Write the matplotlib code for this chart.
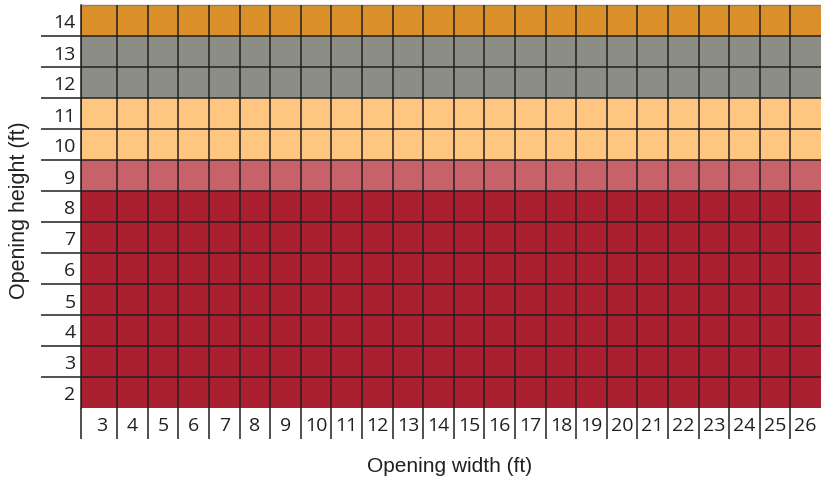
import matplotlib
matplotlib.use('Agg')
import matplotlib.pyplot as plt
from matplotlib.colors import ListedColormap
import numpy as np

# Opening sizes (ft)
widths = list(range(3, 27))
heights = list(range(2, 15))

# class of each opening height (index into colors below)
height_class = [0, 0, 0, 0, 0, 0, 0, 1, 2, 2, 3, 3, 4]
class_colors = ['#ab2030', '#c7626b', '#ffc67f', '#8c8d85', '#da8f2a']

plt.rcParams['font.family'] = ['Open Sans', 'DejaVu Sans']

fig = plt.figure(figsize=(8.21, 4.81), dpi=100)
ax = fig.add_axes([81 / 821, 72 / 481, 740 / 821, 403 / 481])

# cell edges: first column is a bit wider in the original
x_edges = np.array([w - 0.5 for w in widths] + [widths[-1] + 0.5], dtype=float)
x_edges[0] -= 0.18
y_edges = np.array([h - 0.5 for h in heights] + [heights[-1] + 0.5], dtype=float)

grid = np.array([[height_class[i]] * len(widths) for i in range(len(heights))])
ax.pcolormesh(x_edges, y_edges, grid, cmap=ListedColormap(class_colors),
              vmin=-0.5, vmax=len(class_colors) - 0.5)

ax.set_xlim(x_edges[0], x_edges[-1])
ax.set_ylim(y_edges[0], y_edges[-1])

line_col = '#231f20'

# separators as major ticks + grid, labels on minor ticks
ax.set_xticks(x_edges[:-1])
ax.set_yticks(y_edges[1:-1])
ax.set_xticks(widths, minor=True)
ax.set_yticks(heights, minor=True)
ax.set_xticklabels(widths, minor=True)
ax.set_yticklabels(heights, minor=True)
ax.tick_params(which='major', labelbottom=False, labelleft=False, color=line_col, width=1.1)
ax.tick_params(axis='x', which='major', length=22, direction='out')
ax.tick_params(axis='y', which='major', length=29, direction='out')
ax.tick_params(which='minor', length=0, labelsize=14, labelcolor=line_col)
ax.tick_params(axis='x', which='minor', pad=6)
ax.tick_params(axis='y', which='minor', pad=4)

ax.grid(True, which='major', color=line_col, linewidth=1.1)
ax.set_axisbelow(False)

for side in ['right', 'bottom']:
    ax.spines[side].set_visible(False)
ax.spines['left'].set_color(line_col)
ax.spines['left'].set_linewidth(1.1)
ax.spines['top'].set_color('#808080')
ax.spines['top'].set_linewidth(1.0)

label_font = ['Liberation Sans', 'DejaVu Sans']
fig.text(450 / 821, 1 - 466 / 481, 'Opening width (ft)', ha='center', va='center',
         fontsize=15, color=line_col, family=label_font)
fig.text(19.5 / 821, 1 - 210 / 481, 'Opening height (ft)', ha='center', va='center',
         rotation=90, fontsize=15.5, color=line_col, family=label_font)

fig.savefig('out.png', dpi=100)
